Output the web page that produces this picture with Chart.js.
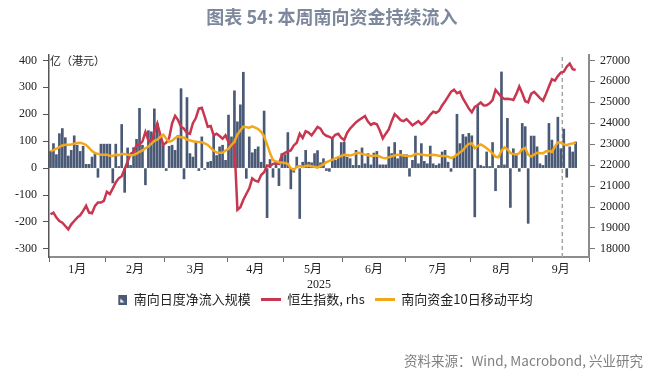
<!DOCTYPE html>
<html><head><meta charset="utf-8">
<script src="https://cdn.jsdelivr.net/npm/chart.js@4.4.0/dist/chart.umd.min.js"></script>
<style>
html,body{margin:0;padding:0;background:#fff;}
#wrap{position:relative;width:664px;height:373px;overflow:hidden;background:#fff;}
#c{position:absolute;left:0;top:0;}
.t{position:absolute;white-space:nowrap;line-height:1.4;}
#title{left:0;width:664px;text-align:center;top:4px;font-weight:bold;font-size:18px;font-family:"Noto Sans CJK SC";color:#7d889c;}
#unit{left:50px;top:53px;font-size:11px;font-family:"Noto Sans CJK SC";color:#222;}
#src{right:21px;top:351px;font-size:13.5px;font-family:"Noto Sans CJK SC";color:#808080;}
</style></head><body>
<div id="wrap"><canvas id="c" width="664" height="373"></canvas>
<div class="t" id="title">图表 54: 本周南向资金持续流入</div>
<div class="t" id="unit">亿（港元）</div>
<div class="t" id="src">资料来源：Wind, Macrobond, 兴业研究</div>
</div>
<script>
// ---- data ----
const monthLabels = ['1月','2月','3月','4月','5月','6月','7月','8月','9月'];
const monthDays = [19,20,21,19,20,21,22,21,19];   // trading days per month on the axis
const yearLabel = '2025';
const leftTicks = [400,300,200,100,0,-100,-200,-300];
const rightTicks = [27000,26000,25000,24000,23000,22000,21000,20000,19000,18000];
const markerDay = 173;   // start of the current week
// southbound daily net inflow (HKD 100m)
const flows = [
 62,91,50,128,147,113,45,66,120,85,
 62,81,14,14,41,54,-34,89,89,89,
 89,-55,89,6,162,-90,75,10,76,107,
 222,85,-62,139,135,220,166,122,91,-9,
 81,85,66,122,295,-40,262,54,41,100,
 -9,116,-5,22,25,120,47,79,85,29,
 197,116,287,172,235,356,-38,116,57,70,
 79,22,212,-184,32,-34,25,-65,54,50,
 132,-77,-15,41,-187,22,66,22,20,54,
 65,20,35,-9,-12,110,29,41,95,97,
 41,35,10,66,10,75,16,54,12,56,
 62,12,12,12,79,54,95,35,66,50,
 50,-30,29,119,16,91,25,16,82,16,
 10,16,60,66,22,-12,40,200,91,125,
 116,129,120,-181,229,10,6,60,6,95,
 -84,10,357,12,185,-146,72,54,-12,166,
 154,-205,119,119,79,16,10,47,166,104,
 79,189,72,145,-34,79,60,97
];
// Hang Seng index (rhs)
const hsi = [
 19655,19735,19494,19334,19254,19094,18933,19174,19334,19494,
 19606,19815,20056,19735,19703,20056,20216,20216,20296,20730,
 20617,20890,21179,21371,21468,21821,22173,22542,22622,22943,
 22975,23136,23585,23184,23104,23585,23986,23457,22975,23072,
 23300,24000,24350,24150,23830,23740,23530,23500,24000,24250,
 24700,24740,24300,23830,23870,23420,23500,23390,23260,23420,
 23100,22940,22975,19864,19990,20345,20620,20890,21370,21260,
 21210,21530,21660,21980,21950,22060,22090,22060,22490,22590,
 22650,22700,22940,23070,23500,23300,23620,23550,23420,23620,
 23825,23740,23500,23400,23350,23280,23450,23500,23300,23200,
 23550,23750,23900,24050,24150,24250,24340,24080,23920,24000,
 23950,23650,23270,23500,23700,24100,24430,24300,24150,24100,
 24200,24050,23900,24000,24100,23950,24050,24200,24400,24550,
 24500,24600,24850,25050,25270,25500,25600,25430,25500,25190,
 24950,24700,24520,24780,24870,24990,24850,24860,24950,25100,
 25590,25420,25250,25160,25170,25150,25110,25400,25750,25430,
 25050,25000,25400,25500,25350,25200,25080,25400,25750,26100,
 26030,26250,26420,26460,26700,26850,26580,26540
];
// southbound 10-day moving average
const ma10 = [
 63,67,72,78,84,87,87,88,91,93,
 94,91,86,75,63,56,53,50,50,50,
 46,45,50,48,52,52,50,48,49,54,
 60,66,74,80,90,101,106,116,124,110,
 98,102,112,118,115,114,106,103,100,98,
 97,96,92,86,75,65,58,57,57,65,
 72,86,98,125,140,154,152,150,155,150,
 145,135,118,88,55,30,25,22,21,19,
 16,0,-7,5,8,4,8,10,7,5,
 2,8,14,22,27,31,36,41,45,50,
 49,47,50,55,57,53,50,48,45,46,
 47,43,38,37,40,44,47,50,49,47,
 46,44,46,53,52,51,49,47,49,50,
 48,46,45,45,42,38,42,50,58,66,
 80,90,92,74,82,88,82,74,65,55,
 42,40,65,77,70,56,52,51,55,70,
 75,50,43,50,57,55,55,63,63,60,
 80,95,95,88,85,90,91,95
];
const seriesNames = ['南向日度净流入规模','恒生指数, rhs','南向资金10日移动平均'];

// ---- derived ----
const totalDays = monthDays.reduce((a,b)=>a+b,0);
const bounds = [0]; monthDays.forEach(d=>bounds.push(bounds[bounds.length-1]+d));
const mids = monthDays.map((d,k)=>bounds[k]+d/2);
const L_MIN=-330, L_MAX=420;
const toRight = v => 18000 + (v+300)*9000/700;
const pts = arr => arr.map((v,i)=>({x:i+0.5,y:v}));

const BAR='#4a5975', RED='#c8364f', ORANGE='#f2a81d';
function icon(kind,color){
  const c=document.createElement('canvas');
  if(kind==='bar'){c.width=20;c.height=10;const g=c.getContext('2d');
    g.fillStyle=color;g.fillRect(11,0,9,10);g.fillStyle='#fff';
    g.beginPath();g.moveTo(13,8);g.lineTo(13,4);g.lineTo(17,8);g.closePath();g.fill();}
  else{c.width=20;c.height=3;const g=c.getContext('2d');g.fillStyle=color;g.fillRect(0,0,20,3);}
  return c;
}
const icons=[icon('bar',BAR),icon('line',RED),icon('line',ORANGE)];
const serif='"Liberation Serif","Noto Sans CJK SC"';

new Chart(document.getElementById('c'),{
  type:'bar',
  data:{datasets:[
    {type:'bar',label:seriesNames[0],data:pts(flows),backgroundColor:BAR,barThickness:2,yAxisID:'y',xAxisID:'x',order:3},
    {type:'line',label:seriesNames[1],data:pts(hsi),borderColor:RED,borderWidth:2.5,pointRadius:0,tension:0,yAxisID:'y1',xAxisID:'x',order:2},
    {type:'line',label:seriesNames[2],data:pts(ma10),borderColor:ORANGE,borderWidth:2.5,pointRadius:0,tension:0,yAxisID:'y',xAxisID:'x',order:1},
    {type:'line',label:'',data:[{x:markerDay,y:L_MIN},{x:markerDay,y:L_MAX}],borderColor:'#a5a5a5',borderWidth:1.5,borderDash:[4,3],pointRadius:0,yAxisID:'y',xAxisID:'x',order:4}
  ]},
  options:{
    responsive:false,animation:false,devicePixelRatio:1,
    layout:{padding:{left:0,right:24,top:55,bottom:57}},
    plugins:{
      tooltip:{enabled:false},
      title:{display:false},
      legend:{position:'bottom',
        labels:{usePointStyle:true,pointStyleWidth:20,boxHeight:13,padding:10,color:'#222',
          font:{family:'"Noto Sans CJK SC"',size:13},
          generateLabels:(chart)=>chart.data.datasets.map((ds,i)=>({text:ds.label,pointStyle:icons[i],datasetIndex:i,hidden:false,lineWidth:0,strokeStyle:'rgba(0,0,0,0)',fillStyle:'rgba(0,0,0,0)',fontColor:'#222'})).filter(it=>it.text)
        }}
    },
    scales:{
      x:{type:'linear',position:'bottom',weight:0,min:0,max:totalDays,offset:false,
        afterBuildTicks:s=>{s.ticks=bounds.map(v=>({value:v}));},
        afterFit:s=>{s.height=5;},
        ticks:{display:false},
        grid:{display:true,offset:false,drawOnChartArea:false,drawTicks:true,tickLength:5,color:'#6a6a6a',lineWidth:1},
        border:{display:true,color:'#8c8c8c',width:2}},
      x2:{type:'linear',position:'bottom',weight:1,min:0,max:totalDays,offset:false,
        afterBuildTicks:s=>{s.ticks=mids.map(v=>({value:v}));},
        afterFit:s=>{s.height=21;},
        ticks:{autoSkip:false,maxRotation:0,padding:1,color:'#222',font:{family:serif,size:12},
          callback:(v,i)=>monthLabels[i]},
        grid:{display:false,drawTicks:false,offset:false},
        border:{display:false},
        title:{display:true,text:yearLabel,color:'#222',font:{family:serif,size:12},padding:{top:0,bottom:-9}}},
      y:{type:'linear',position:'left',min:L_MIN,max:L_MAX,
        afterBuildTicks:s=>{s.ticks=leftTicks.map(v=>({value:v}));},
        afterFit:s=>{s.width=49;},
        ticks:{padding:6,color:'#222',font:{family:serif,size:12},callback:v=>String(v)},
        grid:{drawOnChartArea:false,drawTicks:true,tickLength:6,color:'#555'},
        border:{color:'#555',width:1.5}},
      y1:{type:'linear',position:'right',min:toRight(L_MIN),max:toRight(L_MAX),
        afterBuildTicks:s=>{s.ticks=rightTicks.map(v=>({value:v}));},
        afterFit:s=>{s.width=51;},
        ticks:{padding:5,color:'#222',font:{family:serif,size:12},callback:v=>String(v)},
        grid:{drawOnChartArea:false,drawTicks:true,tickLength:6,color:'#777'},
        border:{color:'#8c8c8c',width:2}}
    }
  }
});
</script>
</body></html>
